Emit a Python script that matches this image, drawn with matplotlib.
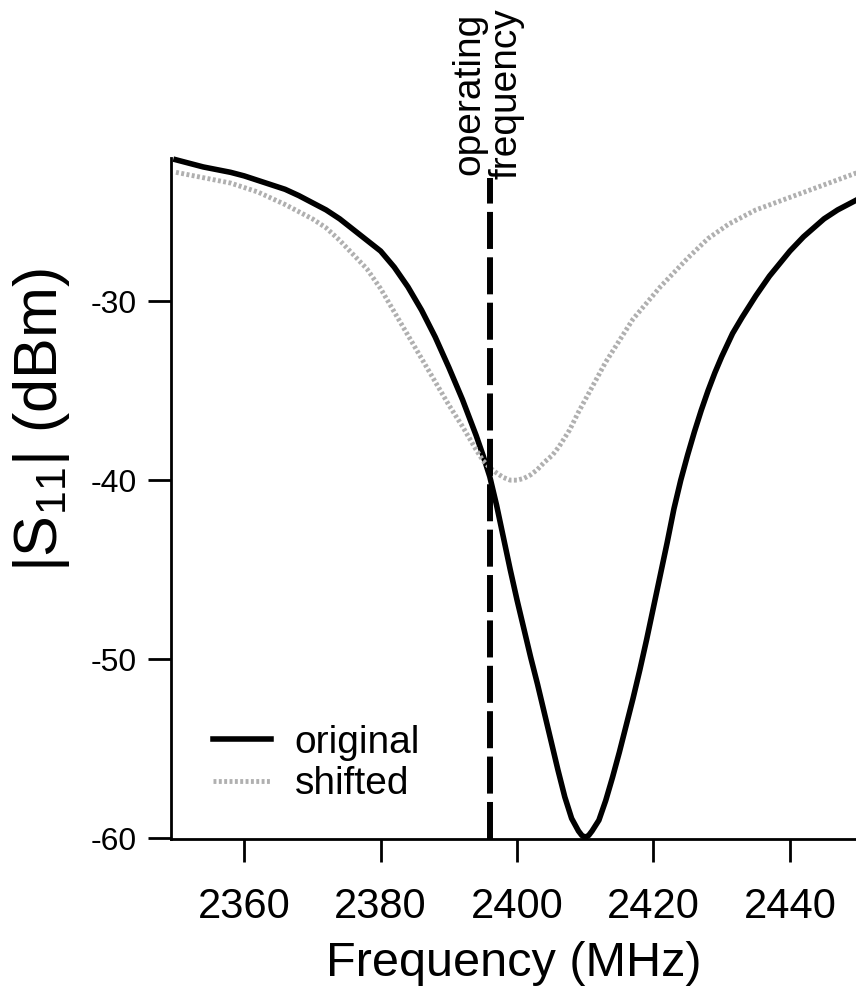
import matplotlib
matplotlib.use('Agg')
import matplotlib.pyplot as plt

plt.rcParams['font.family'] = ['Liberation Sans', 'DejaVu Sans']
plt.rcParams['mathtext.fontset'] = 'custom'
plt.rcParams['mathtext.rm'] = 'Liberation Sans'
plt.rcParams['mathtext.default'] = 'regular'
plt.rcParams['axes.unicode_minus'] = False

# curva original (MHz, dBm)
freq_orig = [2350, 2352, 2354, 2356, 2358, 2360, 2362, 2364, 2366, 2368, 2370, 2372,
             2374, 2376, 2378, 2380, 2382, 2384, 2386, 2388, 2390, 2392, 2394, 2395,
             2396, 2397, 2398, 2399, 2400, 2401, 2402, 2403, 2404, 2405, 2406, 2407,
             2408, 2409, 2409.5, 2410, 2410.5, 2411, 2412, 2413, 2414, 2415, 2416, 2417,
             2418, 2419, 2420, 2421, 2422, 2423, 2424, 2425, 2426, 2427, 2428, 2429,
             2430, 2431.6, 2433, 2435, 2437, 2440, 2442, 2445, 2447, 2450]
s11_orig = [-22.1, -22.3, -22.5, -22.65, -22.8, -23.0, -23.25, -23.5, -23.75, -24.1, -24.5, -24.9,
            -25.4, -26.0, -26.6, -27.2, -28.1, -29.2, -30.5, -32.0, -33.7, -35.5, -37.5, -38.6,
            -39.8, -41.4, -43.2, -45.0, -46.7, -48.3, -49.9, -51.4, -53.0, -54.6, -56.2, -57.7,
            -58.9, -59.6, -59.85, -59.95, -59.85, -59.6, -59.0, -57.9, -56.6, -55.2, -53.7, -52.2,
            -50.6, -48.9, -47.1, -45.3, -43.5, -41.6, -40.0, -38.6, -37.3, -36.1, -35.0, -34.0,
            -33.1, -31.8, -30.9, -29.7, -28.6, -27.2, -26.4, -25.4, -24.9, -24.3]

# curva deslocada
freq_shift = [2350, 2354, 2358, 2362, 2366, 2368, 2370, 2372, 2374, 2376, 2378, 2380,
              2382, 2384, 2386, 2388, 2390, 2392, 2394, 2395, 2396, 2397, 2398, 2399,
              2400, 2401, 2402, 2403, 2404, 2405.2, 2406.2, 2407.7, 2409, 2411, 2413, 2415,
              2417, 2419, 2421, 2423, 2425, 2428, 2431, 2435, 2440, 2445, 2450]
s11_shift = [-22.8, -23.1, -23.4, -23.9, -24.6, -25.0, -25.4, -25.9, -26.6, -27.4, -28.2, -29.3,
             -30.6, -31.9, -33.2, -34.5, -35.8, -37.0, -38.3, -38.9, -39.3, -39.6, -39.85, -40.0,
             -40.0, -39.9, -39.7, -39.4, -39.0, -38.6, -38.1, -37.2, -36.2, -34.8, -33.4, -32.2,
             -31.0, -30.1, -29.2, -28.4, -27.6, -26.5, -25.7, -24.9, -24.2, -23.5, -22.8]

op_freq = 2396
x_ticks = [2360, 2380, 2400, 2420, 2440]
y_ticks = [-30, -40, -50, -60]

fig = plt.figure(figsize=(8.56, 9.91), dpi=100)
ax = fig.add_axes([171 / 856, 152 / 991, 685 / 856, 681 / 991])

ax.plot(freq_orig, s11_orig, color='black', lw=4.0, label='original', clip_on=False,
        solid_joinstyle='round')
ax.plot(freq_shift, s11_shift, color='#b0b0b0', lw=3.5, linestyle=(0, (0.6, 0.5)),
        label='shifted', clip_on=False)
ax.plot([op_freq, op_freq], [-60.05, -23.1], color='black', lw=4.3,
        linestyle=(0, (6.2, 1.4)), clip_on=False)

ax.text(op_freq - 0.3, -23.2, 'operating\nfrequency', rotation=90, ha='center', va='bottom',
        fontsize=28, linespacing=1.05, multialignment='center')

ax.set_xlim(2349.27, 2449.69)
ax.set_ylim(-60.05, -22.0)
ax.set_xticks(x_ticks)
ax.set_yticks(y_ticks)
ax.tick_params(axis='x', length=16.5, width=2, pad=18, labelsize=30)
ax.tick_params(axis='y', length=16.5, width=2, pad=8, labelsize=23)

for lado in ['top', 'right']:
    ax.spines[lado].set_visible(False)
for lado in ['left', 'bottom']:
    ax.spines[lado].set_linewidth(2)

ax.set_xlabel('Frequency (MHz)', fontsize=35, labelpad=10)
ax.set_ylabel('|S$_{11}$| (dBm)', fontsize=44)
ax.yaxis.set_label_coords(-0.145, 0.615)

ax.legend(loc='upper left', bbox_to_anchor=(0.061, 0.168), frameon=False, fontsize=28,
          handlelength=1.5, handletextpad=0.6, labelspacing=0.15, borderpad=0, borderaxespad=0)

fig.savefig('out.png', dpi=100)
